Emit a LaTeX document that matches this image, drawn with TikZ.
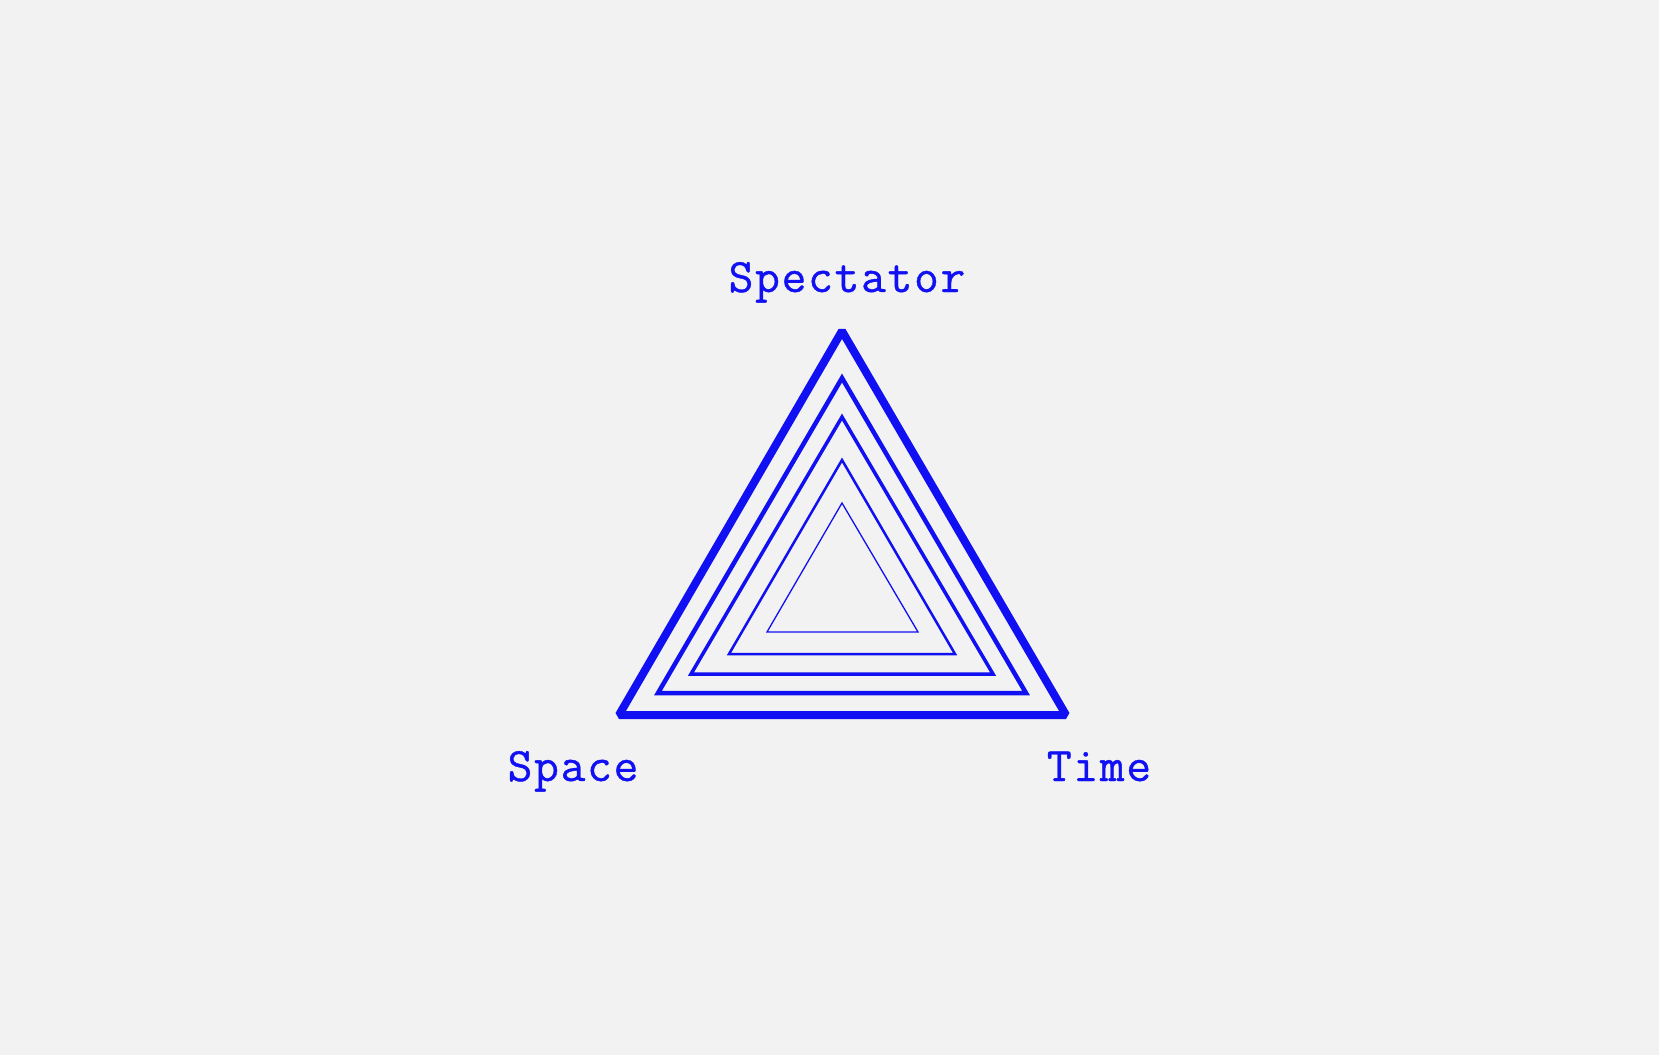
\documentclass[tikz,border=0pt]{standalone}
\usepackage{fontspec}
\newfontfamily\lblfont{Latin Modern Mono}[LetterSpace=3.7,FakeBold=0.8]
\definecolor{bg}{HTML}{F2F2F2}
\definecolor{ink}{HTML}{1010F2}
\begin{document}
\begin{tikzpicture}[x=1pt,y=-1pt,
  tri/.style={draw=ink,line join=miter},
  lbl/.style={text=ink,anchor=base,inner sep=0pt,font=\lblfont\fontsize{48}{56}\selectfont}]
\fill[bg] (0,0) rectangle (1659,1055);
\useasboundingbox (0,0) rectangle (1659,1055);
% concentric triangles
\draw[tri,line width=8pt,line join=bevel] (842,331) -- (1066,715) -- (619,715) -- cycle;
\draw[tri,line width=4.5pt] (842,378) -- (1026,693) -- (658,693) -- cycle;
\draw[tri,line width=3.5pt] (842,417) -- (993,674) -- (691,674) -- cycle;
\draw[tri,line width=2.5pt] (842,460) -- (955,654) -- (729,654) -- cycle;
\draw[tri,line width=1.3pt] (842,503) -- (918,632) -- (767,632) -- cycle;
% labels
\node[lbl] (spectator) at (847,292) {Spectator};
\node[lbl] (space) at (573,781) {Space};
\node[lbl] (time) at (1099,781) {Time};
\end{tikzpicture}
\end{document}
